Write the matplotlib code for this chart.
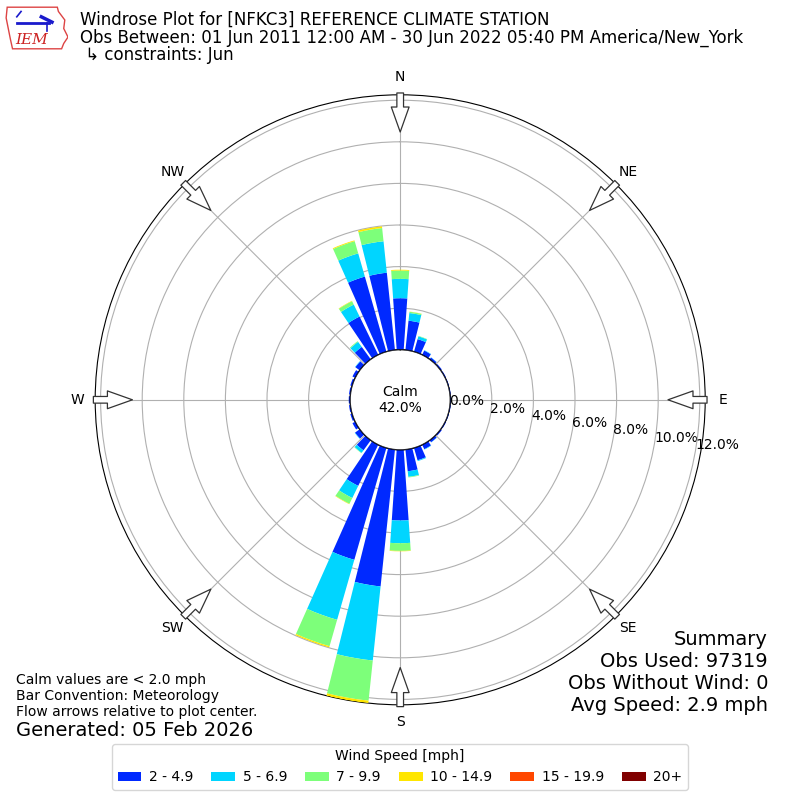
import numpy as np
import matplotlib
matplotlib.use("Agg")
from matplotlib import pyplot as plt
from matplotlib.patches import Circle, Polygon

# direction bins (degrees, meteorological)
directions = list(range(0, 360, 10))

# percent of obs per speed bin (incremental), index = direction / 10
speed_2_5 = [2.48, 1.42, 0.63, 0.23, 0.11, 0.07, 0.05, 0.04, 0.04, 0.04, 0.04, 0.04,
             0.05, 0.07, 0.12, 0.24, 0.62, 1.05, 3.40, 6.62, 5.60, 2.20, 0.60, 0.28,
             0.15, 0.09, 0.07, 0.07, 0.07, 0.09, 0.15, 0.26, 0.74, 2.05, 3.76, 3.74]
speed_5_7 = [0.93, 0.37, 0.14, 0.02, 0.01, 0.0, 0.0, 0.0, 0.0, 0.0, 0.0, 0.0,
             0.0, 0.0, 0.01, 0.02, 0.04, 0.27, 1.09, 3.58, 3.00, 0.65, 0.15, 0.02,
             0.0, 0.0, 0.0, 0.0, 0.0, 0.0, 0.0, 0.02, 0.30, 0.64, 1.16, 1.52]
speed_7_10 = [0.40, 0.06, 0.02, 0.0, 0.0, 0.0, 0.0, 0.0, 0.0, 0.0, 0.0, 0.0,
              0.0, 0.0, 0.0, 0.0, 0.0, 0.03, 0.37, 1.94, 1.32, 0.31, 0.02, 0.0,
              0.0, 0.0, 0.0, 0.0, 0.0, 0.0, 0.0, 0.0, 0.04, 0.18, 0.61, 0.64]
speed_10_15 = [0.04, 0.01, 0.0, 0.0, 0.0, 0.0, 0.0, 0.0, 0.0, 0.0, 0.0, 0.0,
               0.0, 0.0, 0.0, 0.0, 0.0, 0.0, 0.02, 0.12, 0.06, 0.02, 0.0, 0.0,
               0.0, 0.0, 0.0, 0.0, 0.0, 0.0, 0.0, 0.0, 0.0, 0.02, 0.04, 0.08]
speed_15_20 = [0.0] * 36
speed_20p = [0.0] * 36

speed_labels = ["2 - 4.9", "5 - 6.9", "7 - 9.9", "10 - 14.9", "15 - 19.9", "20+"]
calm_pct = 42.0
rticks = [0, 2, 4, 6, 8, 10, 12]
compass = ["N", "NE", "E", "SE", "S", "SW", "W", "NW"]

series = [speed_2_5, speed_5_7, speed_7_10, speed_10_15, speed_15_20, speed_20p]
colors = [plt.cm.jet(i / 6.0) for i in range(1, 7)]

fig = plt.figure(figsize=(8, 8), dpi=100)
ax = fig.add_axes([0.119, 0.119, 0.7625, 0.7625], projection="polar")
ax.set_theta_zero_location("N")
ax.set_theta_direction(-1)

rmax = 12.26
ax.set_rorigin(-50.0 * rmax / 255.0)
ax.set_ylim(0, rmax)

theta = np.radians(directions)
width = np.radians(8)
bottom = np.zeros(36)
for vals, c, lab in zip(series, colors, speed_labels):
    vals = np.array(vals)
    ax.bar(theta, vals, width=width, bottom=bottom, color=c, label=lab,
           edgecolor="none", zorder=3)
    bottom += vals

ax.set_rgrids(rticks, labels=["%.1f%%" % r for r in rticks], angle=100)
ax.set_thetagrids(range(0, 360, 45), labels=compass)
ax.tick_params(axis="x", pad=2)
ax.grid(True, color="#b0b0b0", lw=0.8)
ax.set_axisbelow(True)

# calm circle
ax.add_patch(Circle((0.5, 0.5), 50 / 610.0, transform=ax.transAxes,
                    facecolor="white", edgecolor="black", lw=1, zorder=4))
ax.text(0.5, 0.5, "Calm\n%.1f%%" % calm_pct, transform=ax.transAxes,
        ha="center", va="center", fontsize=10, zorder=5)

# flow arrows
for ang in range(0, 360, 45):
    a = np.radians(ang)
    x0, y0 = 0.5 + 0.503 * np.sin(a), 0.5 + 0.503 * np.cos(a)
    x1, y1 = 0.5 + 0.439 * np.sin(a), 0.5 + 0.439 * np.cos(a)
    ax.annotate("", xy=(x1, y1), xytext=(x0, y0), xycoords="axes fraction",
                arrowprops=dict(arrowstyle="simple,head_length=0.9,head_width=0.64,tail_width=0.24",
                                fc="white", ec="#333333", lw=0.9, shrinkA=0, shrinkB=0,
                                mutation_scale=20),
                annotation_clip=False, zorder=6)

leg = fig.legend(loc="lower center", bbox_to_anchor=(0.5, 0.004), ncol=6,
                 title="Wind Speed [mph]", fontsize=10, title_fontsize=10,
                 handlelength=1.7, handletextpad=0.55, columnspacing=1.3)

fig.text(0.1, 0.975, "Windrose Plot for [NFKC3] REFERENCE CLIMATE STATION",
         fontsize=12, va="center")
fig.text(0.1, 0.953, "Obs Between: 01 Jun 2011 12:00 AM - 30 Jun 2022 05:40 PM America/New_York",
         fontsize=12, va="center")
fig.text(0.1, 0.931, " \u21b3 constraints: Jun", fontsize=12, va="center")

fig.text(0.96, 0.159, "Summary\nObs Used: 97319\nObs Without Wind: 0\nAvg Speed: 2.9 mph",
         ha="right", va="center", fontsize=14)
fig.text(0.02, 0.13, "Calm values are < 2.0 mph\nBar Convention: Meteorology\n"
         "Flow arrows relative to plot center.", fontsize=10, va="center")
fig.text(0.02, 0.087, "Generated: 05 Feb 2026", fontsize=14, va="center")

# rough IEM logo
lax = fig.add_axes([0.005, 0.935, 0.08, 0.06])
lax.set_xlim(0, 60)
lax.set_ylim(0, 45)
lax.axis("off")
iowa = [(3, 42), (50, 42), (51, 38), (54, 34), (57, 30), (56, 22), (60, 14), (56, 8),
        (54, 3), (8, 3), (6, 12), (4, 22), (2, 32), (3, 42)]
lax.add_patch(Polygon(iowa, closed=True, fill=False, ec="#dd4444", lw=1))
lax.plot([12, 42], [27, 27], color="#1a1acc", lw=2)
lax.plot([12, 16], [33, 38], color="#1a1acc", lw=1.2)
lax.plot([35, 45], [33, 28], color="#1a1acc", lw=2.5)
lax.plot([40, 40], [27, 20], color="#1a1acc", lw=1.2)
lax.text(26, 11, "IEM", color="#cc2222", fontsize=11, family="DejaVu Serif",
         style="italic", ha="center", va="center")

fig.savefig("out.png")
